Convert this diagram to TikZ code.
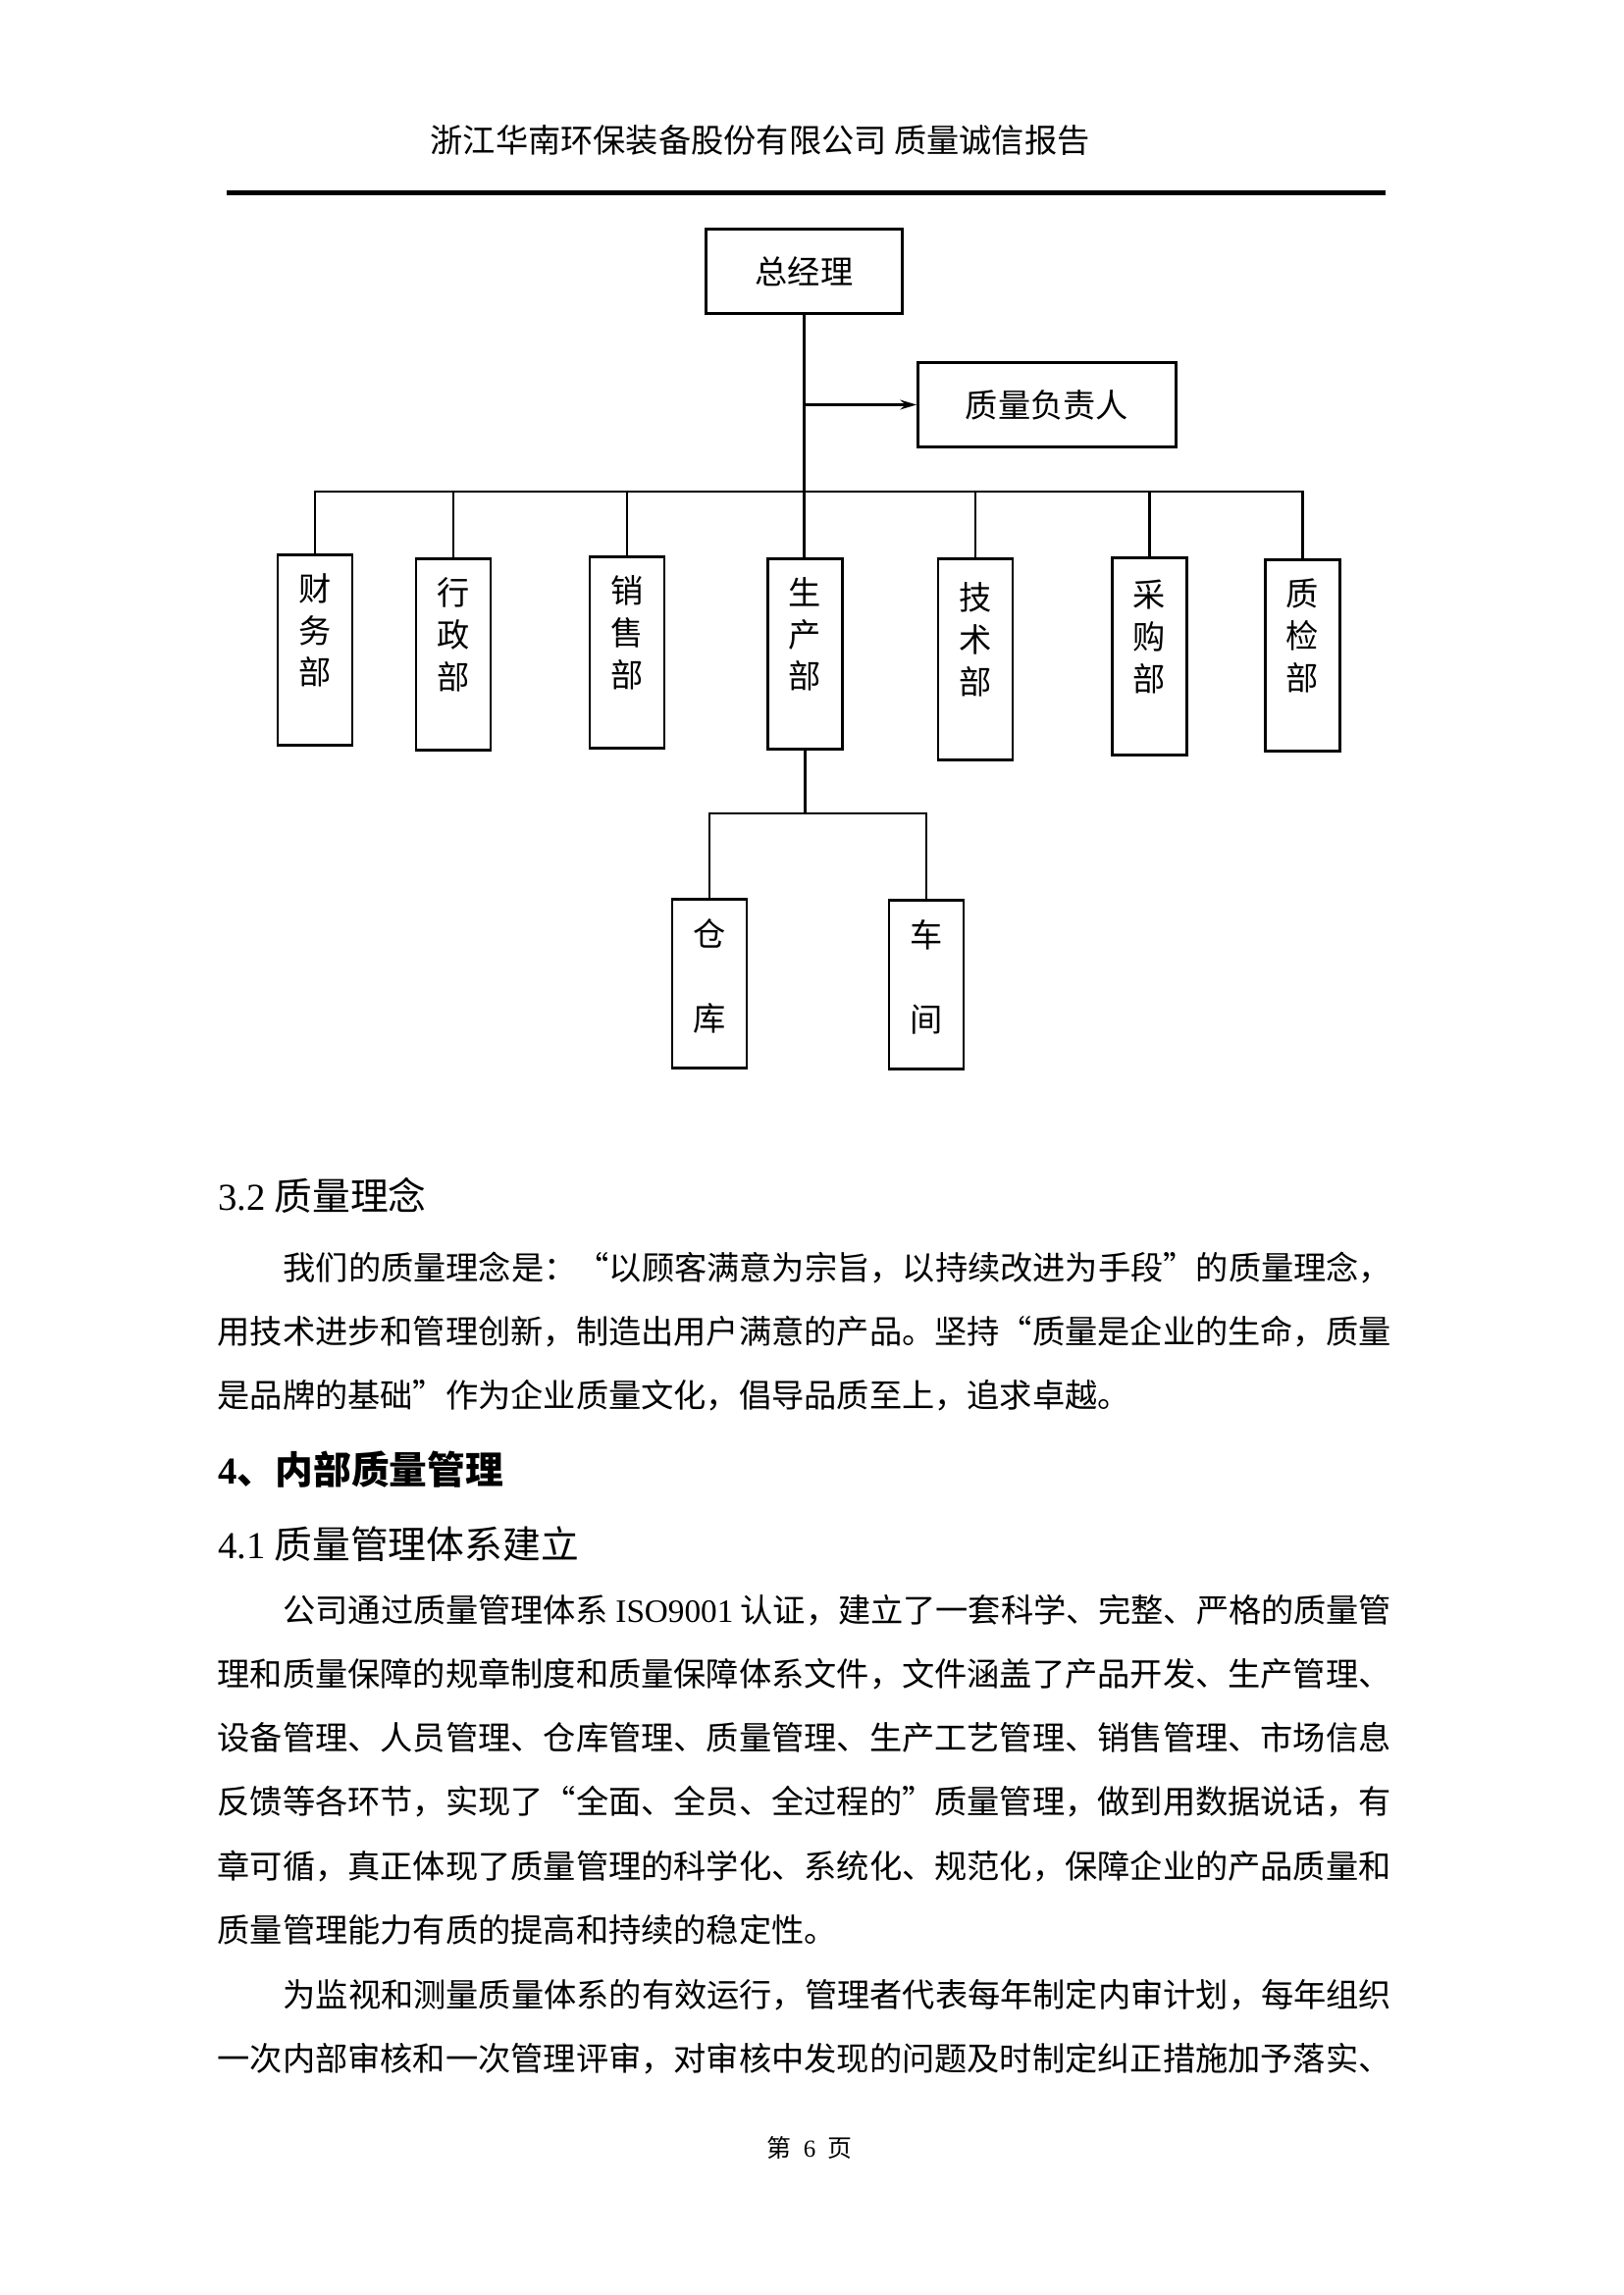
\documentclass[tikz,border=0pt]{standalone}
\usepackage{fontspec}
\setmainfont{Liberation Serif}
\newfontfamily\cjk{Noto Sans CJK SC}
\usetikzlibrary{arrows.meta}
\XeTeXlinebreaklocale "zh"
\XeTeXlinebreakskip=0pt plus 2pt minus 0.3pt
\newcommand\lat[1]{{\rmfamily #1}}

\begin{document}
\begin{tikzpicture}[x=0.12696mm, y=-0.12696mm,
  box/.style={draw, line width=1pt, inner sep=0pt, align=center, font=\cjk\fontsize{12}{15.5}\selectfont},
  dept/.style={box, anchor=north, minimum width=27.4pt},
  link/.style={line width=1pt},
  txt/.style={anchor=base west, inner sep=0pt, font=\cjk\fontsize{12}{12}\selectfont},
  fullline/.style={txt, text width=#1, align=justify, execute at begin node={\parfillskip=0pt\relax}},
  head/.style={anchor=base west, inner sep=0pt, font=\cjk\fontsize{14}{14}\selectfont}]
  \fill[white] (0,0) rectangle (1654,2339);
  \useasboundingbox (0,0) rectangle (1654,2339);

  \node[txt] (title) at (438,156) {浙江华南环保装备股份有限公司 质量诚信报告};
  \draw[line width=1.8pt] (231,197) -- (1412,197);

  \node[box, minimum width=72.4pt, minimum height=31.3pt] (gm) at (819.5,276.5) {总经理};
  \node[box, minimum width=95pt, minimum height=31.3pt] (qa) at (1067,412.5) {质量负责人};

  \node[dept, minimum height=70.2pt] (cw) at (321,564) {财\\务\\部\\~};
  \node[dept, minimum height=70.6pt] (xz) at (462,568) {行\\政\\部\\~};
  \node[dept, minimum height=70.6pt] (xs) at (639,566) {销\\售\\部\\~};
  \node[dept, minimum height=70.2pt] (sc) at (820.5,568) {生\\产\\部\\~};
  \node[dept, minimum height=74.2pt] (js) at (994,568) {技\\术\\部\\~};
  \node[dept, minimum height=72.7pt] (cg) at (1171.5,567) {采\\购\\部\\~};
  \node[dept, minimum height=70.6pt] (zj) at (1327.5,569) {质\\检\\部\\~};
  \node[dept, minimum height=62.3pt] (ck) at (723,915) {仓\\~\\库\\[-9pt]~};
  \node[dept, minimum height=62.3pt] (cj) at (944,916) {车\\~\\间\\[-9pt]~};

  \coordinate (bus) at (820,501);
  \coordinate (fork) at (820,829);
  \draw[link] (gm.south) -- (gm.south |- sc.north);
  \draw[link, -{Stealth[length=6pt, width=3.5pt]}] (gm.south |- qa.west) -- (qa.west);
  \draw[link] (cw.north) -- (cw.north |- bus) -- (zj.north |- bus) -- (zj.north);
  \foreach \d in {xz, xs, js, cg}
    \draw[link] (\d.north) -- (\d.north |- bus);
  \draw[link] (sc.south) -- (sc.south |- fork);
  \draw[link] (ck.north) -- (ck.north |- fork) -- (cj.north |- fork) -- (cj.north);

  \node[head] (h32) at (222,1233) {\lat{3.2} 质量理念};
  \node[fullline=408pt] (p1a) at (288,1304) {我们的质量理念是：“以顾客满意为宗旨，以持续改进为手段”的质量理念，};
  \node[fullline=432pt] (p1b) at (221,1369) {用技术进步和管理创新，制造出用户满意的产品。坚持“质量是企业的生命，质量};
  \node[txt] (p1c) at (221,1434) {是品牌的基础”作为企业质量文化，倡导品质至上，追求卓越。};

  \node[head, font={\cjk\bfseries\fontsize{14}{14}\selectfont}] (h4) at (222,1512) {\lat{4}、内部质量管理};
  \node[head] (h41) at (222,1588) {\lat{4.1} 质量管理体系建立};

  \node[fullline=408pt] (p2a) at (288,1653) {公司通过质量管理体系 \lat{ISO9001} 认证，建立了一套科学、完整、严格的质量管};
  \node[fullline=432pt] (p2b) at (221,1718) {理和质量保障的规章制度和质量保障体系文件，文件涵盖了产品开发、生产管理、};
  \node[fullline=432pt] (p2c) at (221,1783) {设备管理、人员管理、仓库管理、质量管理、生产工艺管理、销售管理、市场信息};
  \node[fullline=432pt] (p2d) at (221,1848) {反馈等各环节，实现了“全面、全员、全过程的”质量管理，做到用数据说话，有};
  \node[fullline=432pt] (p2e) at (221,1914) {章可循，真正体现了质量管理的科学化、系统化、规范化，保障企业的产品质量和};
  \node[txt] (p2f) at (221,1979) {质量管理能力有质的提高和持续的稳定性。};

  \node[fullline=408pt] (p3a) at (288,2045) {为监视和测量质量体系的有效运行，管理者代表每年制定内审计划，每年组织};
  \node[fullline=432pt] (p3b) at (221,2110) {一次内部审核和一次管理评审，对审核中发现的问题及时制定纠正措施加予落实、};

  \node[anchor=base, inner sep=0pt, font=\cjk\fontsize{9}{9}\selectfont] (pageno) at (825,2198) {第\hspace{4.5pt}\lat{6}\hspace{4.5pt}页};
\end{tikzpicture}
\end{document}
